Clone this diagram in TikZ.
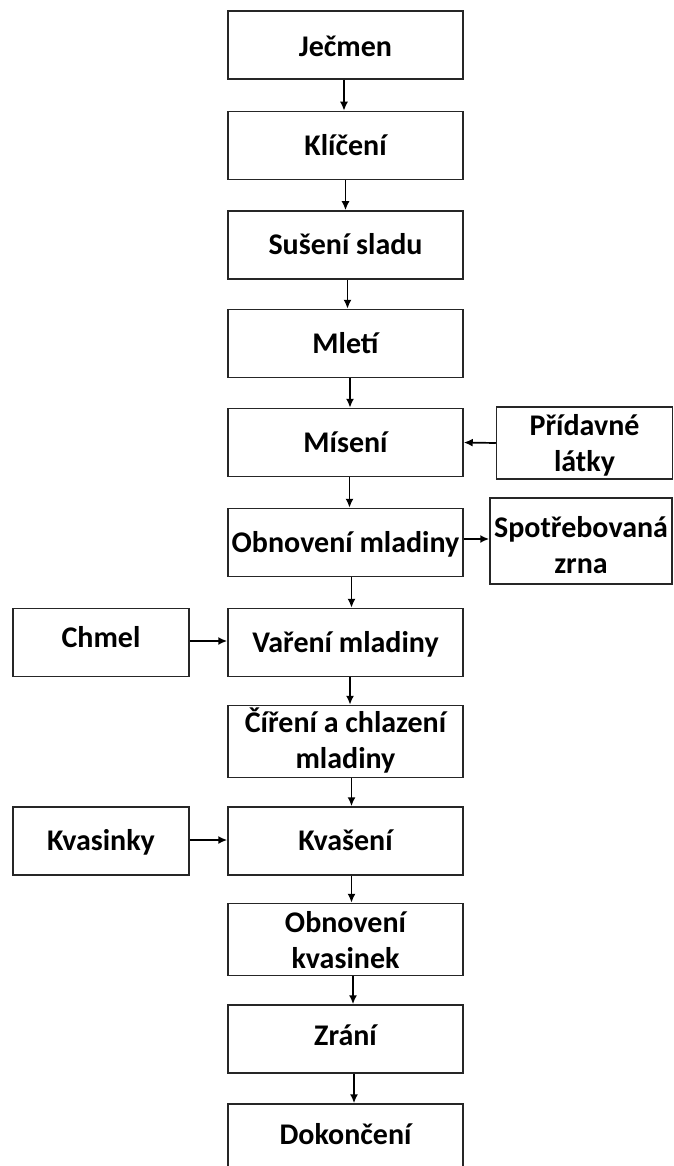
\documentclass[tikz,border=0pt]{standalone}
\usepackage{fontspec}
\setmainfont{Carlito}
\usetikzlibrary{arrows.meta}
\newcommand{\twolines}[3]{\raisebox{#1}{\begin{tabular}[t]{@{}c@{}}#2\\#3\end{tabular}}}
\tikzset{
  box/.style={draw=black!85, line width=1.5pt, minimum width=235pt, minimum height=68pt, inner sep=0pt, align=center,
    font=\bfseries\fontsize{30}{36}\selectfont, text height=19.5pt, text depth=0pt},
  box2/.style={box, text height=25.2pt, text depth=46.8pt},
  sidebox/.style={box, minimum width=176pt},
  sidebox2/.style={box2, minimum width=176pt},
  flow/.style={line width=1.7pt, -{Latex[length=9pt,width=8pt]}},
}
\begin{document}
\begin{tikzpicture}[x=1pt,y=-1pt]
\clip (0,0) rectangle (673,1166);
\fill[white] (0,0) rectangle (673,1166);
% main column
\node[box] (jecmen) at (345.5,45) {\raisebox{-2pt}{Ječmen}};
\node[box] (kliceni) at (345.5,145.5) {Klíčení};
\node[box] (suseni) at (345.5,245) {Sušení sladu};
\node[box] (mleti) at (345.5,343.5) {Mletí};
\node[box] (miseni) at (345.5,442.5) {Mísení};
\node[box] (obmlad) at (345.5,542.5) {Obnovení mladiny};
\node[box] (vareni) at (345.5,642.5) {Vaření mladiny};
\node[box2] (cireni) at (345.5,741.5) {\twolines{-1.5pt}{Číření a chlazení}{mladiny}};
\node[box] (kvaseni) at (345.5,841) {Kvašení};
\node[box2] (obkvas) at (345.5,939.5) {\twolines{-4pt}{Obnovení}{kvasinek}};
\node[box] (zrani) at (345.5,1039) {\raisebox{3pt}{Zrání}};
\node[box] (dokonceni) at (345.5,1138) {\raisebox{3pt}{Dokončení}};
% side boxes
\node[sidebox2] (pridavne) at (584.5,443) {\twolines{-3pt}{Přídavné}{látky}};
\node[sidebox2, minimum width=182pt, minimum height=86pt] (spotreb) at (581,541) {\twolines{-7pt}{Spotřebovaná}{zrna}};
\node[sidebox] (chmel) at (101,642.5) {\raisebox{5pt}{Chmel}};
\node[sidebox] (kvasinky) at (101,841) {Kvasinky};
% arrows
\draw[flow] ([xshift=-1.5pt]jecmen.south) -- ([xshift=-1.5pt]kliceni.north);
\draw[flow] ([xshift=0pt]kliceni.south) -- ([xshift=0pt]suseni.north);
\draw[flow] ([xshift=2pt]suseni.south) -- ([xshift=2pt]mleti.north);
\draw[flow] ([xshift=4.5pt]mleti.south) -- ([xshift=4.5pt]miseni.north);
\draw[flow] ([xshift=4pt]miseni.south) -- ([xshift=4pt]obmlad.north);
\draw[flow] ([xshift=6pt]obmlad.south) -- ([xshift=6pt]vareni.north);
\draw[flow] ([xshift=4.5pt]vareni.south) -- ([xshift=4.5pt]cireni.north);
\draw[flow] ([xshift=6pt]cireni.south) -- ([xshift=6pt]kvaseni.north);
\draw[flow] ([xshift=6pt]kvaseni.south) -- ([xshift=6pt]obkvas.north);
\draw[flow] ([xshift=7.5pt]obkvas.south) -- ([xshift=7.5pt]zrani.north);
\draw[flow] ([xshift=8.5pt]zrani.south) -- ([xshift=8.5pt]dokonceni.north);
\draw[flow] (pridavne.west) -- (miseni.east);
\draw[flow] ([yshift=3.5pt]obmlad.east) -- ([yshift=3.5pt]obmlad.east -| spotreb.west);
\draw[flow] ([yshift=1.5pt]chmel.east) -- ([yshift=1.5pt]chmel.east -| vareni.west);
\draw[flow] ([yshift=1pt]kvasinky.east) -- ([yshift=1pt]kvasinky.east -| kvaseni.west);
\end{tikzpicture}
\end{document}
